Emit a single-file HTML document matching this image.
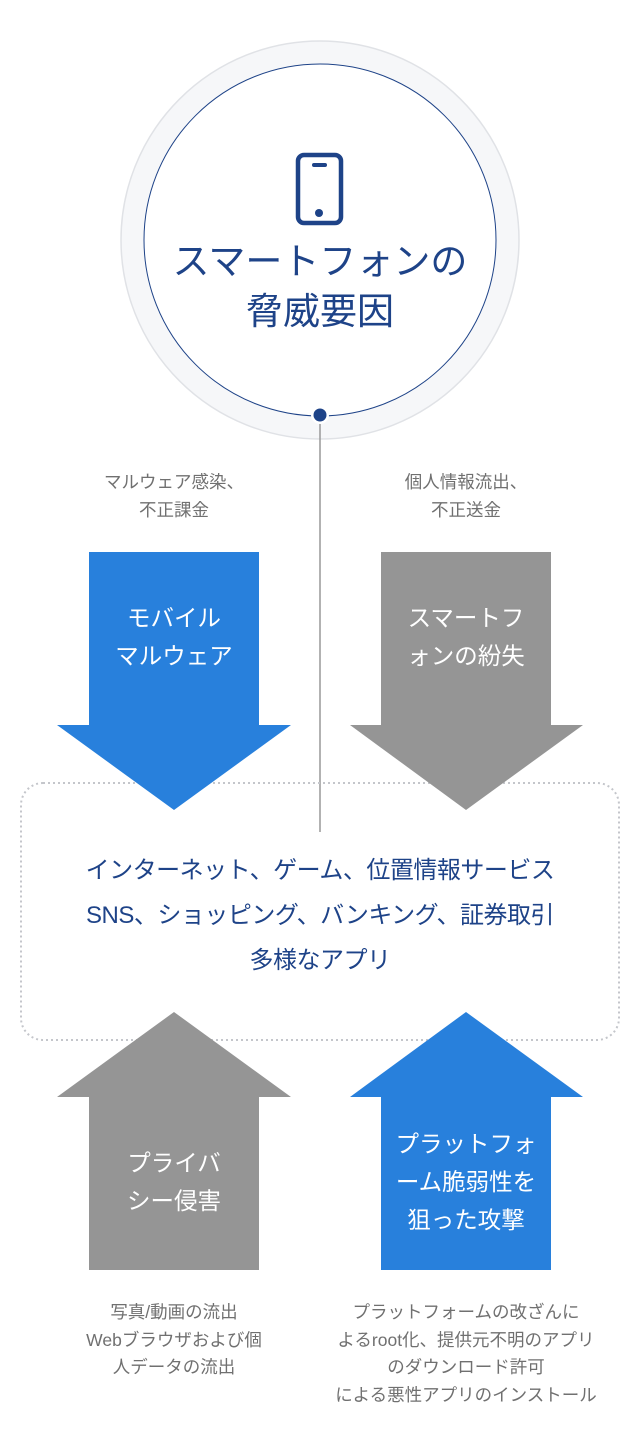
<!DOCTYPE html>
<html><head><meta charset="utf-8"><style>
body{margin:0;width:640px;height:1444px;background:#fff;position:relative;overflow:hidden;font-family:"Liberation Sans","Noto Sans CJK JP",sans-serif}
.t{position:absolute;text-align:center;white-space:nowrap}
.cap{font-size:17.5px;color:#707070;line-height:27.5px}
.aw{font-size:23.5px;color:#fff;line-height:38px}
</style></head><body>
<svg width="640" height="1444" style="position:absolute;left:0;top:0">
<circle cx="320" cy="240" r="199" fill="#f6f7f9" stroke="#e0e2e6" stroke-width="1.5"/>
<circle cx="320" cy="240" r="176" fill="#fff" stroke="#1e4388" stroke-width="1"/>
<line x1="320" y1="420" x2="320" y2="832" stroke="#999" stroke-width="1.5"/>
<circle cx="320" cy="415" r="9" fill="#fff"/>
<circle cx="320" cy="415" r="6.5" fill="#1e4388"/>
<rect x="298" y="155" width="43" height="68" rx="6" fill="none" stroke="#1e4388" stroke-width="4.5"/>
<rect x="312" y="163" width="15" height="4" rx="2" fill="#1e4388"/>
<circle cx="319" cy="213" r="4" fill="#1e4388"/>
<rect x="21" y="783" width="598" height="257" rx="22" fill="none" stroke="#c4c6cb" stroke-width="2" stroke-dasharray="2 3"/>
<polygon points="89,552 259,552 259,725 291,725 174,810 57,725 89,725" fill="#2880dc"/>
<polygon points="381,552 551,552 551,725 583,725 466,810 350,725 381,725" fill="#959595"/>
<polygon points="174,1012 291,1097 259,1097 259,1270 89,1270 89,1097 57,1097" fill="#959595"/>
<polygon points="466,1012 583,1097 551,1097 551,1270 381,1270 381,1097 350,1097" fill="#2880dc"/>
</svg>
<div class="t" style="left:100px;width:440px;top:237px;font-size:37px;line-height:50px;color:#1e4388">スマートフォンの<br>脅威要因</div>
<div class="t cap" style="left:44px;width:260px;top:469px">マルウェア感染、<br>不正課金</div>
<div class="t cap" style="left:336px;width:260px;top:469px">個人情報流出、<br>不正送金</div>
<div class="t aw" style="left:74px;width:200px;top:599px">モバイル<br>マルウェア</div>
<div class="t aw" style="left:366px;width:200px;top:599px">スマートフ<br>ォンの紛失</div>
<div class="t" style="left:21px;width:598px;top:848px;font-size:24px;line-height:45px;color:#1e4388;letter-spacing:-0.5px">インターネット、ゲーム、位置情報サービス<br>SNS、ショッピング、バンキング、証券取引<br>多様なアプリ</div>
<div class="t aw" style="left:74px;width:200px;top:1144px">プライバ<br>シー侵害</div>
<div class="t aw" style="left:366px;width:200px;top:1125px">プラットフォ<br>ーム脆弱性を<br>狙った攻撃</div>
<div class="t cap" style="left:24px;width:300px;top:1299px">写真/動画の流出<br>Webブラウザおよび個<br>人データの流出</div>
<div class="t cap" style="left:296px;width:340px;top:1299px">プラットフォームの改ざんに<br>よるroot化、提供元不明のアプリ<br>のダウンロード許可<br>による悪性アプリのインストール</div>
</body></html>
